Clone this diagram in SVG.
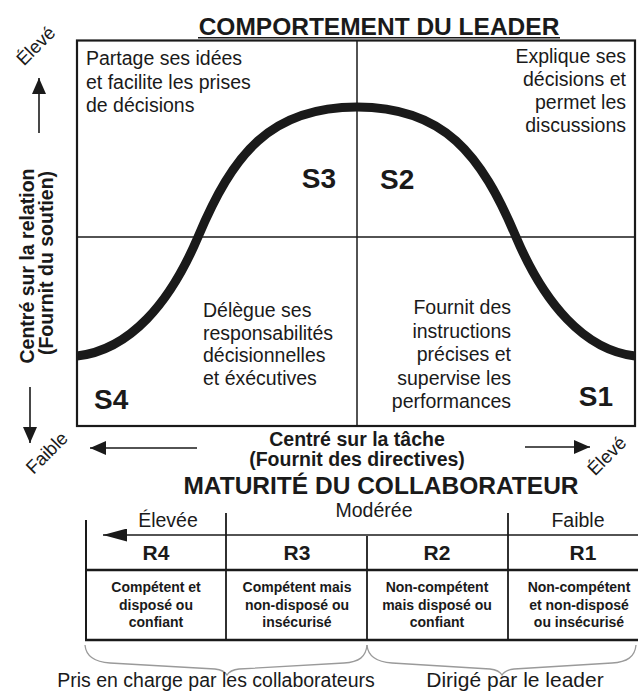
<svg xmlns="http://www.w3.org/2000/svg" width="638" height="693" viewBox="0 0 638 693">
<style>
.t{font-family:"Liberation Sans",Arial,Helvetica,sans-serif;fill:#1a1a1a}
.b{font-weight:bold}
.q{font-size:19.5px}
.h{font-size:24.5px;font-weight:bold}
.s{font-size:28px;font-weight:bold}
.ax{font-size:19.5px;font-weight:bold}
.dg{font-size:18.5px}
.lv{font-size:19.5px}
.r{font-size:21px;font-weight:bold}
.d{font-size:14px;font-weight:bold}
.m{text-anchor:middle}
.e{text-anchor:end}
.ln{stroke:#1a1a1a;fill:none}
.br{stroke:#9a9a9a;stroke-width:1.3;fill:none}
</style>
<defs>
<marker id="arr" viewBox="0 0 16 14" refX="16" refY="7" markerWidth="16" markerHeight="14" orient="auto" markerUnits="userSpaceOnUse">
<path d="M0,0 L16,7 L0,14 z" fill="#1a1a1a"/>
</marker>
<marker id="arr2" viewBox="0 0 24 13" refX="24" refY="6.5" markerWidth="24" markerHeight="13" orient="auto" markerUnits="userSpaceOnUse">
<path d="M0,0 L24,6.5 L0,13 z" fill="#1a1a1a"/>
</marker>
</defs>
<rect width="638" height="693" fill="#ffffff"/>

<g id="title-leader">
<text class="t h m" x="379" y="35">COMPORTEMENT DU LEADER</text>
<line class="ln" x1="198" y1="37.8" x2="560" y2="37.8" stroke-width="1.5"/>
</g>

<g id="grid">
<rect class="ln" x="77" y="40.5" width="558" height="385.5" stroke-width="2.2"/>
<line class="ln" x1="357" y1="40.5" x2="357" y2="426" stroke-width="1.5"/>
<line class="ln" x1="77" y1="237" x2="635" y2="237" stroke-width="1.5"/>
</g>

<g id="curve">
<path class="ln" stroke-width="9" d="M77,356 C130,350 170,303 198,237 C233,154 270,107 357,107 C444,107 481,154 516,237 C544,303 584,350 635,356"/>
</g>

<g id="q-s3">
<text class="t q" x="86" y="65">Partage ses idées</text>
<text class="t q" x="86" y="88.5">et facilite les prises</text>
<text class="t q" x="86" y="111.5">de décisions</text>
<text class="t s e" x="336" y="188">S3</text>
</g>
<g id="q-s2">
<text class="t q e" x="626" y="63">Explique ses</text>
<text class="t q e" x="626" y="86">décisions et</text>
<text class="t q e" x="626" y="109">permet les</text>
<text class="t q e" x="626" y="132">discussions</text>
<text class="t s" x="380" y="189">S2</text>
</g>
<g id="q-s4">
<text class="t q" x="203" y="317">Délègue ses</text>
<text class="t q" x="203" y="339.5">responsabilités</text>
<text class="t q" x="203" y="362">décisionnelles</text>
<text class="t q" x="203" y="384.5">et éxécutives</text>
<text class="t s" x="94" y="409">S4</text>
</g>
<g id="q-s1">
<text class="t q e" x="511" y="314">Fournit des</text>
<text class="t q e" x="511" y="337.5">instructions</text>
<text class="t q e" x="511" y="361">précises et</text>
<text class="t q e" x="511" y="384.5">supervise les</text>
<text class="t q e" x="511" y="408">performances</text>
<text class="t s e" x="613" y="406">S1</text>
</g>

<g id="axis-y">
<text class="t dg m" transform="translate(36,46) rotate(-45)" y="6">Élevé</text>
<text class="t ax m" transform="translate(34,266) rotate(-90)">Centré sur la relation</text>
<text class="t ax m" transform="translate(53,263) rotate(-90)">(Fournit du soutien)</text>
<text class="t dg m" transform="translate(47,453) rotate(-45)" y="6">Faible</text>
</g>

<g id="axis-x">
<text class="t ax m" x="357" y="446">Centré sur la tâche</text>
<text class="t ax m" x="357" y="466">(Fournit des directives)</text>
<text class="t dg m" transform="translate(607,456) rotate(-45)" y="6">Élevé</text>
</g>

<g id="connectors">
<line class="ln" x1="39" y1="133" x2="39" y2="78" stroke-width="1.6" marker-end="url(#arr)"/>
<line class="ln" x1="30" y1="387" x2="30" y2="443" stroke-width="1.6" marker-end="url(#arr)"/>
<line class="ln" x1="197" y1="448" x2="90" y2="448" stroke-width="1.6" marker-end="url(#arr)"/>
<line class="ln" x1="525" y1="447" x2="590" y2="447" stroke-width="1.6" marker-end="url(#arr)"/>
<line class="ln" x1="640" y1="535" x2="103" y2="535" stroke-width="1.6" marker-end="url(#arr2)"/>
</g>

<g id="title-maturite">
<text class="t h m" x="381" y="494">MATURITÉ DU COLLABORATEUR</text>
</g>

<g id="maturity-table">
<text class="t lv m" x="168" y="527">Élevée</text>
<text class="t lv m" x="374" y="517">Modérée</text>
<text class="t lv m" x="578" y="527">Faible</text>
<line class="ln" x1="86" y1="520" x2="86" y2="641" stroke-width="2"/>
<line class="ln" x1="226" y1="513" x2="226" y2="641" stroke-width="1.8"/>
<line class="ln" x1="367" y1="536" x2="367" y2="641" stroke-width="1.8"/>
<line class="ln" x1="508" y1="513" x2="508" y2="641" stroke-width="1.8"/>
<line class="ln" x1="85" y1="570" x2="640" y2="570" stroke-width="2.5"/>
<line class="ln" x1="85" y1="640" x2="640" y2="640" stroke-width="2.5"/>
</g>

<g id="r4">
<text class="t r m" x="156" y="560">R4</text>
<text class="t d m" x="156" y="592">Compétent et</text>
<text class="t d m" x="156" y="609.5">disposé ou</text>
<text class="t d m" x="156" y="627">confiant</text>
</g>
<g id="r3">
<text class="t r m" x="297" y="560">R3</text>
<text class="t d m" x="297" y="592">Compétent mais</text>
<text class="t d m" x="297" y="609.5">non-disposé ou</text>
<text class="t d m" x="297" y="627">insécurisé</text>
</g>
<g id="r2">
<text class="t r m" x="437" y="560">R2</text>
<text class="t d m" x="437" y="592">Non-compétent</text>
<text class="t d m" x="437" y="609.5">mais disposé ou</text>
<text class="t d m" x="437" y="627">confiant</text>
</g>
<g id="r1">
<text class="t r m" x="583" y="560">R1</text>
<text class="t d m" x="579" y="592">Non-compétent</text>
<text class="t d m" x="579" y="609.5">et non-disposé</text>
<text class="t d m" x="579" y="627">ou insécurisé</text>
</g>

<g id="brace-collaborateurs">
<path class="br" d="M85,645 C86,657 95,662 110,663 L215,669 Q224,670 227,675 Q230,670 239,669 L344,663 C359,662 366,657 367,645"/>
<text class="t m" x="216" y="687" font-size="19.5">Pris en charge par les collaborateurs</text>
</g>
<g id="brace-leader">
<path class="br" d="M367,645 C368,657 377,662 392,663 L490,669 Q499,670 502,675 Q505,670 514,669 L612,663 C627,662 635,657 636,645"/>
<text class="t m" x="515" y="687" font-size="21">Dirigé par le leader</text>
</g>
</svg>
